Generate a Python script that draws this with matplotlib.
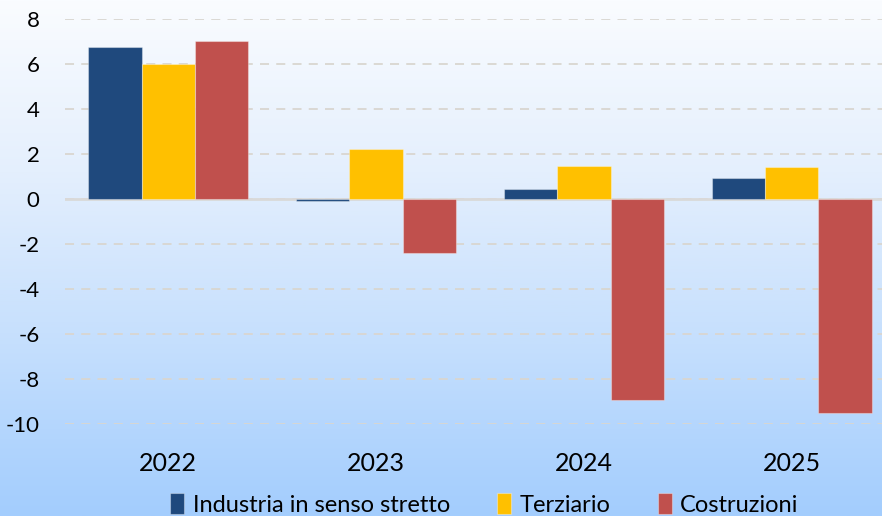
import numpy as np
import matplotlib
matplotlib.use("Agg")
import matplotlib.pyplot as plt
from matplotlib.colors import LinearSegmentedColormap

anni = ["2022", "2023", "2024", "2025"]
industria = [6.75, -0.1, 0.45, 0.93]
terziario = [6.0, 2.22, 1.47, 1.42]
costruzioni = [7.02, -2.4, -8.93, -9.5]

serie = ["Industria in senso stretto", "Terziario", "Costruzioni"]
colori = ["#1F497D", "#FFC000", "#C0504D"]

plt.rcParams['font.family'] = ['Lato', 'DejaVu Sans']
plt.rcParams['axes.unicode_minus'] = False

fig = plt.figure(figsize=(8.82, 5.16), dpi=100)

# sfondo sfumato bianco -> azzurro
bg = fig.add_axes([0, 0, 1, 1], zorder=-10)
cmap = LinearSegmentedColormap.from_list("bg", ["#FAFCFF", "#E4EFFD", "#C5DFFD", "#A3CDFE"])
grad = np.linspace(0, 1, 256).reshape(-1, 1)
bg.imshow(grad, aspect="auto", cmap=cmap, extent=[0, 1, 0, 1], origin="upper")
bg.axis("off")

ax = fig.add_axes([64.5 / 882, (516 - 424) / 516, 831 / 882, 405 / 516])
ax.patch.set_alpha(0)

x = np.arange(len(anni))
w = 0.77 / 3
for i, (vals, col, nome) in enumerate(zip([industria, terziario, costruzioni], colori, serie)):
    ax.bar(x + (i - 1) * w, vals, w, color=col, label=nome,
           edgecolor=(1, 1, 1, 0.35), linewidth=0.8, zorder=3)

ax.set_xlim(-0.5, 3.5)
ax.set_ylim(-10, 8)
ax.set_yticks(range(-10, 9, 2))
ax.yaxis.grid(True, linestyle=(0, (5, 4)), color="#D9D6D0", linewidth=1.3, zorder=0)
ax.axhline(0, color="#D9D9D9", linewidth=2, zorder=2)
for s in ax.spines.values():
    s.set_visible(False)
ax.set_xticks(x)
ax.set_xticklabels(anni, fontsize=18)
ax.tick_params(axis="x", length=0, pad=20)
ax.tick_params(axis="y", length=0, pad=18, labelsize=16)

fig.legend(loc="center", bbox_to_anchor=(0.549, 0.022), ncol=3, frameon=False,
           fontsize=17, handlelength=0.6, handleheight=1.0, handletextpad=0.35,
           columnspacing=2.0)

fig.savefig("out.png", dpi=100)
